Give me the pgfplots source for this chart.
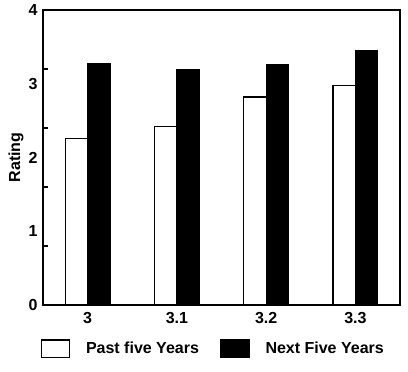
\documentclass[border=0pt]{standalone}
\usepackage{fontspec}
\setmainfont{Liberation Sans}
\usepackage{pgfplots}
\pgfplotsset{compat=1.18}
\begin{document}
\begin{tikzpicture}
\fontsize{12}{14}\selectfont\bfseries
\begin{axis}[
  scale only axis,
  width=267.75pt, height=221.25pt,
  xmin=-0.5, xmax=3.5, ymin=0, ymax=4,
  xtick={0,1,2,3}, xticklabels={3,3.1,3.2,3.3},
  ytick={0,1,2,3,4},
  major tick length=0pt,
  extra y ticks={0.8,1.6,2.4,3.2},
  extra y tick labels={},
  extra y tick style={major tick length=4pt, tick style={black, line width=0.8pt}},
  ytick pos=left, xtick pos=bottom,
  tick align=inside,
  axis line style={black, line width=1.3pt},
  /pgf/number format/assume math mode=true,
  ticklabel style={font=\fontsize{12}{14}\selectfont\bfseries},
  ylabel={Rating},
  ylabel style={font=\fontsize{12}{14}\selectfont\bfseries, yshift=-4.5pt},
  xticklabel style={yshift=-1pt},
  ybar, bar width=0.25,
  legend style={at={(0.478,-0.105)}, anchor=north, draw=none, fill=none,
    legend columns=2, font=\fontsize{12}{14}\selectfont\bfseries,
    /tikz/every odd column/.append style={column sep=10pt},
    /tikz/every even column/.append style={column sep=14pt}},
  legend image code/.code={\draw[#1, line width=0.9pt] (0pt,-6.5pt) rectangle (21pt,6.5pt);},
]
\addplot[draw=black, line width=0.9pt, fill=white, bar shift=-0.125] coordinates {(0,2.26) (1,2.42) (2,2.82) (3,2.98)};
\addplot[draw=black, line width=0.9pt, fill=black, bar shift=0.125] coordinates {(0,3.28) (1,3.19) (2,3.26) (3,3.45)};
\legend{Past five Years, Next Five Years}
\end{axis}
\pgfresetboundingbox
\path (current axis.south west) ++(-32.25pt,-50.25pt) rectangle ++(306pt,279pt);
\end{tikzpicture}
\end{document}
